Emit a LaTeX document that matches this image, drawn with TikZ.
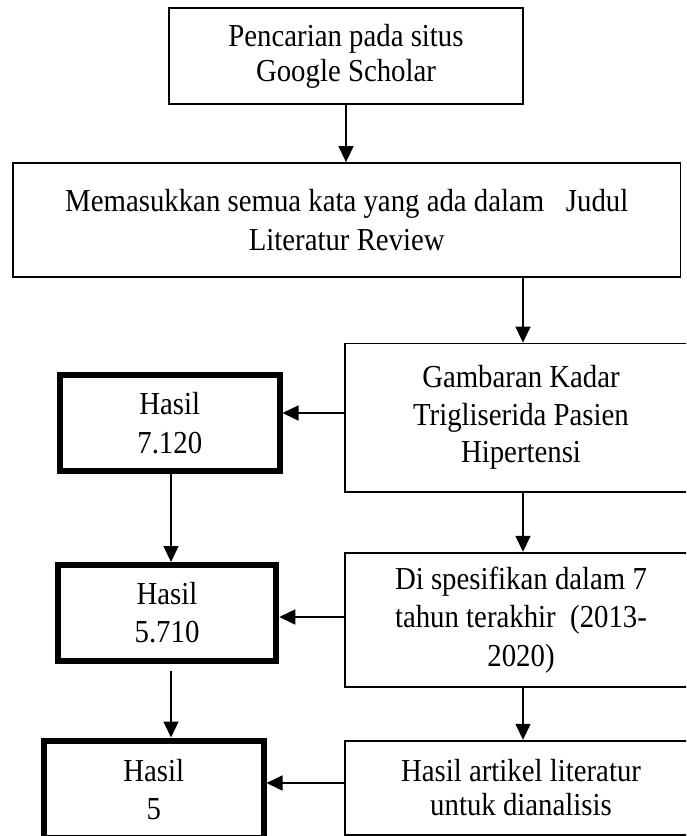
\documentclass[tikz,border=0pt]{standalone}
\usepackage{fontspec}
\setmainfont{Liberation Serif}[FakeStretch=0.9]
\usetikzlibrary{arrows.meta}
\begin{document}
\begin{tikzpicture}[x=1pt,y=-1pt,
  box/.style={draw, line width=1.8pt, inner sep=0pt, align=center, fill=white,
    font=\fontsize{32}{38}\selectfont},
  hbox/.style={box, line width=6pt},
  arr/.style={-{Triangle[length=16pt,width=15pt]}, line width=1.5pt},
]
\useasboundingbox (0,0) rectangle (686,836);
\clip (0,0) rectangle (686,836);
\fill[white] (0,0) rectangle (686,836);

\node[box, minimum width=354pt, minimum height=96pt, font=\fontsize{32}{35}\selectfont]
  (s1) at (346,56) {Pencarian pada situs\\Google Scholar};
\node[box, minimum width=667.5pt, minimum height=114pt, font=\fontsize{32}{39}\selectfont]
  (s2) at (346.75,220) {Memasukkan semua kata yang ada dalam\ \ \ Judul\\Literatur Review};
\node[box, minimum width=352pt, minimum height=148.5pt, font=\fontsize{32}{37.5}\selectfont]
  (s3) at (521,417.75) {Gambaran Kadar\\Trigliserida Pasien\\Hipertensi};
\node[box, minimum width=352pt, minimum height=134pt, font=\fontsize{32}{38.5}\selectfont]
  (s4) at (521,619.7) {Di spesifikan dalam 7\\tahun terakhir\ \ (2013-\\2020)};
\node[box, minimum width=352pt, minimum height=94.3pt, font=\fontsize{32}{34}\selectfont]
  (s5) at (521,787.85) {Hasil artikel literatur\\untuk dianalisis};

\node[hbox, minimum width=219.5pt, minimum height=95.5pt, font=\fontsize{32}{39}\selectfont]
  (h1) at (169.75,422.75) {Hasil\\7.120};
\node[hbox, minimum width=218.5pt, minimum height=96pt]
  (h2) at (167,613) {Hasil\\5.710};
\node[hbox, minimum width=219.5pt, minimum height=97.5pt]
  (h3) at (153.75,789.25) {Hasil\\5};

\coordinate (cR) at (523,0);
\coordinate (cL) at (171,0);
\coordinate (r1) at (0,413);
\coordinate (r2) at (0,617);
\coordinate (r3) at (0,783);

\draw[arr] (s1.south) -- (s1.south |- s2.north);
\draw[arr] (s2.south -| cR) -- (s3.north -| cR);
\draw[arr] (s3.south -| cR) -- (s4.north -| cR);
\draw[arr] (s4.south -| cR) -- (s5.north -| cR);
\draw[arr] (s3.west |- r1) -- (h1.east |- r1);
\draw[arr] (s4.west |- r2) -- (h2.east |- r2);
\draw[arr] (s5.west |- r3) -- (h3.east |- r3);
\draw[arr, line width=1.2pt] (h1.south -| cL) -- (h2.north -| cL);
\draw[arr, line width=1.2pt, shorten <=7pt] (h2.south -| cL) -- (h3.north -| cL);
\end{tikzpicture}
\end{document}
